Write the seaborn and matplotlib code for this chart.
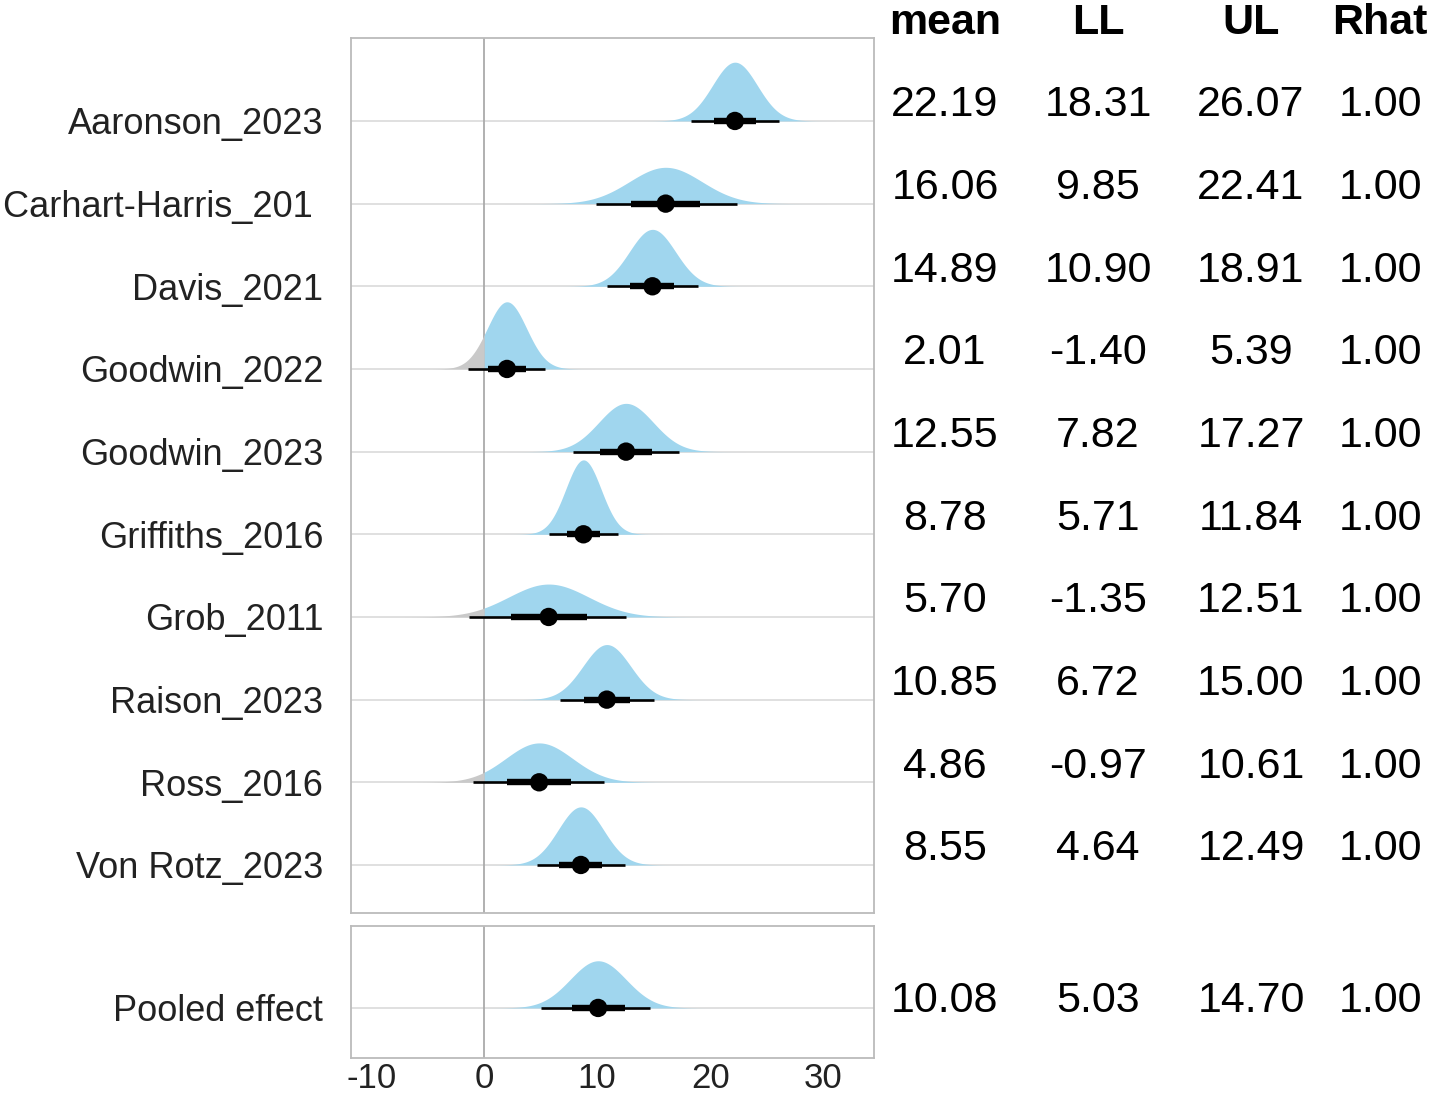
import numpy as np
import pandas as pd
import matplotlib
matplotlib.use("Agg")
import matplotlib.pyplot as plt
import seaborn as sns

# study summaries
studies = ["Aaronson_2023", "Carhart-Harris_201 ", "Davis_2021", "Goodwin_2022",
           "Goodwin_2023", "Griffiths_2016", "Grob_2011", "Raison_2023",
           "Ross_2016", "Von Rotz_2023"]
mean = [22.19, 16.06, 14.89, 2.01, 12.55, 8.78, 5.70, 10.85, 4.86, 8.55]
LL = [18.31, 9.85, 10.90, -1.40, 7.82, 5.71, -1.35, 6.72, -0.97, 4.64]
UL = [26.07, 22.41, 18.91, 5.39, 17.27, 11.84, 12.51, 15.00, 10.61, 12.49]
rhat = [1.00] * 10

pooled_label = "Pooled effect"
pooled = {"mean": 10.08, "LL": 5.03, "UL": 14.70, "Rhat": 1.00}

df = pd.DataFrame({"study": studies, "mean": mean, "LL": LL, "UL": UL, "Rhat": rhat})
df["row"] = np.arange(len(df), 0, -1)
df["sd"] = (df["UL"] - df["LL"]) / (2 * 1.96)

pool = pd.DataFrame({"study": [pooled_label], "mean": [pooled["mean"]],
                     "LL": [pooled["LL"]], "UL": [pooled["UL"]], "Rhat": [pooled["Rhat"]]})
pool["row"] = [1]
pool["sd"] = (pool["UL"] - pool["LL"]) / (2 * 1.96)

sns.set_theme(style="whitegrid")
plt.rcParams['font.family'] = ['Liberation Sans', 'DejaVu Sans']

blue = "#a0d6ee"
grey = "#c9c9c9"
XLIM = (-11.8, 34.5)

fig = plt.figure(figsize=(14.29, 11.01), dpi=100)
ax = fig.add_axes([0.2456, 0.1708, 0.366, 0.7947])
ax2 = fig.add_axes([0.2456, 0.0391, 0.366, 0.1199])

# normalise all densities against the tallest one
peak_max = max((1 / (s * np.sqrt(2 * np.pi))) for s in list(df["sd"]) + list(pool["sd"]))
scale = 0.9 / peak_max


def draw(a, d):
    for _, r in d.iterrows():
        xs = np.linspace(r["mean"] - 4.5 * r["sd"], r["mean"] + 4.5 * r["sd"], 600)
        xs = np.sort(np.append(xs, 0.0))
        dens = np.exp(-0.5 * ((xs - r["mean"]) / r["sd"]) ** 2) / (r["sd"] * np.sqrt(2 * np.pi))
        y = r["row"] + dens * scale
        a.fill_between(xs, r["row"], y, where=xs <= 0, color=grey, lw=0, zorder=2)
        a.fill_between(xs, r["row"], y, where=xs >= 0, color=blue, lw=0, zorder=2)
        q66 = 0.954 * r["sd"]
        a.hlines(r["row"], r["LL"], r["UL"], color="black", lw=1.9, zorder=3)
        a.hlines(r["row"], r["mean"] - q66, r["mean"] + q66, color="black", lw=4.6, zorder=3)
    sns.scatterplot(data=d, x="mean", y="row", ax=a, color="black", s=175,
                    edgecolor="none", zorder=4, legend=False)
    a.axvline(0, color="#aaaaaa", lw=1.3, zorder=1)


draw(ax, df)
draw(ax2, pool)

for a, d in [(ax, df), (ax2, pool)]:
    a.set_xlim(XLIM)
    a.set_yticks(d["row"])
    a.set_yticklabels(d["study"], fontsize=26, color="#222222")
    a.grid(axis="x", visible=False)
    a.grid(axis="y", color="#e0e0e0", lw=1.4)
    a.set_xlabel("")
    a.set_ylabel("")
    a.tick_params(length=0, pad=20)
    for sp in a.spines.values():
        sp.set_color("#bbbbbb")
        sp.set_linewidth(1.3)

ax.set_ylim(1 - 48 / 82.7, 10 + 83 / 82.7)
ax2.set_ylim(1 - 50 / 82.7, 1 + 82 / 82.7)
ax.set_xticklabels([])
ax2.set_xticks([-10, 0, 10, 20, 30])
ax2.set_xticklabels(["-10", "0", "10", "20", "30"], fontsize=25, color="#222222")
ax2.tick_params(axis="x", pad=3)

# table on the right
cols = ["mean", "LL", "UL", "Rhat"]
col_x = [945 / 1429, 1098 / 1429, 1251 / 1429, 1380 / 1429]
tr = matplotlib.transforms.blended_transform_factory(fig.transFigure, ax.transData)
tr2 = matplotlib.transforms.blended_transform_factory(fig.transFigure, ax2.transData)
for c, x in zip(cols, col_x):
    fig.text(x, 1 - 23 / 1101, c, ha="center", va="center", fontsize=31,
             fontweight="bold", color="black")
    for _, r in df.iterrows():
        ax.text(x, r["row"] + 0.19, f"{r[c]:.2f}", transform=tr, ha="center",
                va="center", fontsize=31, color="black", clip_on=False)
    ax2.text(x, 1 + 0.08, f"{pool[c][0]:.2f}", transform=tr2, ha="center",
             va="center", fontsize=31, color="black", clip_on=False)

fig.savefig("out.png", dpi=100)
